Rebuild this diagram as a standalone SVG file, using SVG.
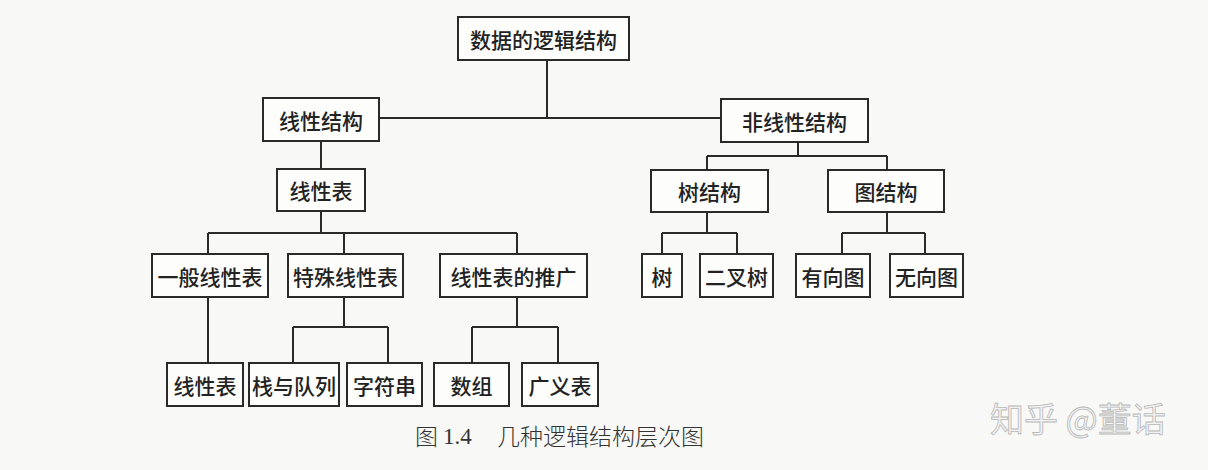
<svg xmlns="http://www.w3.org/2000/svg" width="1208" height="470" viewBox="0 0 1208 470">
<style>
.box{fill:#fdfdfc;stroke:#2a2a2a;stroke-width:2}
.t{font-family:"Noto Sans CJK SC","Noto Sans",sans-serif;font-size:21px;font-weight:500;fill:#222;text-anchor:middle;dominant-baseline:central}
.c{fill:none;stroke:#2a2a2a;stroke-width:2}
.cap{font-family:"Noto Sans CJK SC",sans-serif;font-size:23px;font-weight:300;fill:#333;dominant-baseline:central}
</style>
<rect width="1208" height="470" fill="#f8f8f6"/>
<g id="connectors">
<path class="c" d="M547,60V118M379,118H721M321,141V169M321,211V233M208,233H517M208,233V254M344,233V254M517,233V254M208,297V363M344,297V327M293,327H388M293,327V363M388,327V363M517,297V327M472,327H558M472,327V363M558,327V363M798,142V156M707,156H887M707,156V170M887,156V170M707,212V233M662,233H737M662,233V254M737,233V254M887,212V233M842,233H925M842,233V254M925,233V254"/>
</g>
<g id="root"><rect class="box" x="458" y="17" width="171" height="43"/><text class="t" x="543.5" y="38.5">数据的逻辑结构</text></g>
<g id="linear"><rect class="box" x="263" y="98" width="116" height="43"/><text class="t" x="321" y="119.5">线性结构</text></g>
<g id="nonlinear"><rect class="box" x="721" y="99" width="147" height="43"/><text class="t" x="794.5" y="120.5">非线性结构</text></g>
<g id="linearlist"><rect class="box" x="277" y="169" width="88" height="42"/><text class="t" x="321" y="190">线性表</text></g>
<g id="tree"><rect class="box" x="651" y="170" width="117" height="42"/><text class="t" x="709.5" y="191">树结构</text></g>
<g id="graph"><rect class="box" x="828" y="170" width="116" height="42"/><text class="t" x="886" y="191">图结构</text></g>
<g id="general"><rect class="box" x="152" y="254" width="116" height="43"/><text class="t" x="210" y="275.5">一般线性表</text></g>
<g id="special"><rect class="box" x="288" y="254" width="115" height="43"/><text class="t" x="345.5" y="275.5">特殊线性表</text></g>
<g id="extended"><rect class="box" x="440" y="254" width="147" height="43"/><text class="t" x="513.5" y="275.5">线性表的推广</text></g>
<g id="shu"><rect class="box" x="642" y="254" width="40" height="43"/><text class="t" x="662" y="275.5">树</text></g>
<g id="binarytree"><rect class="box" x="700" y="254" width="73" height="43"/><text class="t" x="736.5" y="275.5">二叉树</text></g>
<g id="directed"><rect class="box" x="796" y="254" width="74" height="43"/><text class="t" x="833" y="275.5">有向图</text></g>
<g id="undirected"><rect class="box" x="890" y="254" width="73" height="43"/><text class="t" x="926.5" y="275.5">无向图</text></g>
<g id="list2"><rect class="box" x="167" y="363" width="76" height="43"/><text class="t" x="205" y="384.5">线性表</text></g>
<g id="stackqueue"><rect class="box" x="249" y="363" width="90" height="43"/><text class="t" x="294" y="384.5">栈与队列</text></g>
<g id="string"><rect class="box" x="347" y="363" width="75" height="43"/><text class="t" x="384.5" y="384.5">字符串</text></g>
<g id="array"><rect class="box" x="434" y="363" width="75" height="43"/><text class="t" x="471.5" y="384.5">数组</text></g>
<g id="glist"><rect class="box" x="522" y="363" width="76" height="43"/><text class="t" x="560" y="384.5">广义表</text></g>
<g id="caption">
<text class="cap" x="415" y="435">图</text>
<text class="cap" x="443" y="436" style="font-family:'Liberation Serif',serif;font-weight:normal">1.4</text>
<text class="cap" x="497" y="435">几种逻辑结构层次图</text>
</g>
<text x="990" y="432" font-family="'Noto Sans CJK SC',sans-serif" font-size="34" fill="#f2f2f2" stroke="#b8b8b8" stroke-width="0.8">知乎 @董话</text>
</svg>
